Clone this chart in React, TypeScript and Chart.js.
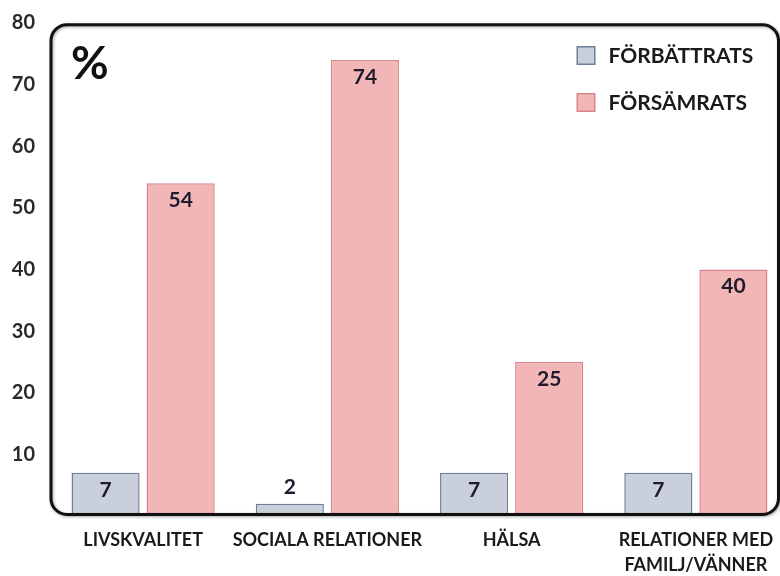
import React, { useEffect, useRef } from 'react';
import { Chart, registerables } from 'chart.js';

Chart.register(...registerables);

const categories: string[][] = [
  ['LIVSKVALITET'],
  ['SOCIALA RELATIONER'],
  ['HÄLSA'],
  ['RELATIONER MED', 'FAMILJ/VÄNNER'],
];
const seriesNames = ['FÖRBÄTTRATS', 'FÖRSÄMRATS'];
const improved = [7, 2, 7, 7];
const worsened = [54, 74, 25, 40];
const yMin = 0;
const yMax = 80;
const yStep = 10;
const unitLabel = '%';

const FONT = 'Lato, "Open Sans", sans-serif';

const fillColors = ['#c9d0dc', '#f3b6b7'];
const borderColors = ['#6f7f99', '#d9868a'];

const FRAME_INSET = 11.5;

const framePlugin = {
  id: 'frame',
  afterDatasetsDraw(chart: any) {
    const { ctx, chartArea } = chart;
    const l = chartArea.left;
    const t = chartArea.top + 1.7;
    const b = chartArea.bottom - 1.5;
    const r = chart.width - FRAME_INSET;
    const rad = 16;
    ctx.save();
    ctx.shadowColor = 'rgba(0,0,0,0.35)';
    ctx.shadowBlur = 3;
    ctx.shadowOffsetX = 1;
    ctx.shadowOffsetY = 1;
    ctx.strokeStyle = '#111111';
    ctx.lineWidth = 3;
    ctx.beginPath();
    ctx.moveTo(l + rad, t);
    ctx.lineTo(r - rad, t);
    ctx.arcTo(r, t, r, t + rad, rad);
    ctx.lineTo(r, b - rad);
    ctx.arcTo(r, b, r - rad, b, rad);
    ctx.lineTo(l + rad, b);
    ctx.arcTo(l, b, l, b - rad, rad);
    ctx.lineTo(l, t + rad);
    ctx.arcTo(l, t, l + rad, t, rad);
    ctx.closePath();
    ctx.stroke();
    ctx.restore();
  },
};

const labelsPlugin = {
  id: 'valueLabels',
  afterDatasetsDraw(chart: any) {
    const { ctx } = chart;
    ctx.save();
    ctx.font = `bold 21px ${FONT}`;
    ctx.fillStyle = '#1c1c2c';
    ctx.textAlign = 'center';
    ctx.textBaseline = 'middle';
    chart.data.datasets.forEach((ds: any, di: number) => {
      const meta = chart.getDatasetMeta(di);
      meta.data.forEach((el: any, i: number) => {
        const h = el.base - el.y;
        const txt = String(ds.data[i]);
        const y = h > 30 ? el.y + 17 : el.y - 16;
        ctx.fillText(txt, el.x, y);
      });
    });
    ctx.restore();
  },
};

const legendPlugin = {
  id: 'customLegend',
  afterDraw(chart: any) {
    const { ctx, chartArea } = chart;
    const right = chart.width - FRAME_INSET;
    const boxX = right - 202;
    const top0 = chartArea.top + 23;
    ctx.save();
    chart.data.datasets.forEach((ds: any, i: number) => {
      const y = top0 + i * 47;
      ctx.fillStyle = ds.backgroundColor;
      ctx.strokeStyle = ds.borderColor;
      ctx.lineWidth = 1.5;
      ctx.beginPath();
      ctx.rect(boxX + 0.75, y + 0.75, 17.5, 17.5);
      ctx.fill();
      ctx.stroke();
      ctx.fillStyle = '#1a1a1a';
      ctx.font = `bold 21px ${FONT}`;
      ctx.textAlign = 'left';
      ctx.textBaseline = 'middle';
      ctx.fillText(ds.label, boxX + 32, y + 10);
    });
    ctx.font = `bold 46px ${FONT}`;
    ctx.fillStyle = '#111111';
    ctx.textAlign = 'left';
    ctx.textBaseline = 'middle';
    ctx.fillText(unitLabel, chartArea.left + 20, chartArea.top + 41);
    ctx.restore();
  },
};

export default function App() {
  const ref = useRef<HTMLCanvasElement | null>(null);
  useEffect(() => {
    if (!ref.current) return;
    const chart = new Chart(ref.current, {
      type: 'bar',
      data: {
        labels: categories,
        datasets: [
          {
            label: seriesNames[0],
            data: improved,
            backgroundColor: fillColors[0],
            borderColor: borderColors[0],
            borderWidth: 1.5,
            categoryPercentage: 0.815,
            barPercentage: 0.907,
          },
          {
            label: seriesNames[1],
            data: worsened,
            backgroundColor: fillColors[1],
            borderColor: borderColors[1],
            borderWidth: 1.5,
            categoryPercentage: 0.815,
            barPercentage: 0.907,
          },
        ],
      },
      options: {
        responsive: false,
        animation: false,
        layout: { padding: { top: 23, right: 2, left: 0, bottom: 0 } },
        plugins: {
          legend: { display: false },
          tooltip: { enabled: false },
        },
        scales: {
          x: {
            grid: { display: false, drawTicks: false },
            border: { display: false },
            ticks: {
              color: '#1a1a1a',
              font: { family: FONT, size: 18, weight: 'bold', lineHeight: 1.39 },
              padding: 12,
              maxRotation: 0,
              autoSkip: false,
            },
            afterFit: (s: any) => {
              s.height = 60;
              s.paddingLeft = 0;
              s.paddingRight = 0;
            },
          },
          y: {
            min: yMin,
            max: yMax,
            grid: { display: false, drawTicks: false },
            border: { display: false },
            ticks: {
              stepSize: yStep,
              color: '#2a2a2a',
              font: { family: FONT, size: 20, weight: 'bold' },
              padding: 16,
              callback: (v: any) => (v === 0 ? '' : String(v)),
            },
            afterFit: (s: any) => {
              s.width = 51;
              s.paddingTop = 0;
              s.paddingBottom = 0;
            },
          },
        },
      },
      plugins: [framePlugin, labelsPlugin, legendPlugin],
    } as any);
    return () => chart.destroy();
  }, []);
  return (
    <div style={{ position: 'absolute', left: 0, top: 0, width: 780, height: 576, overflow: 'hidden', background: '#fff' }}>
      <canvas ref={ref} width={790} height={576} />
    </div>
  );
}
